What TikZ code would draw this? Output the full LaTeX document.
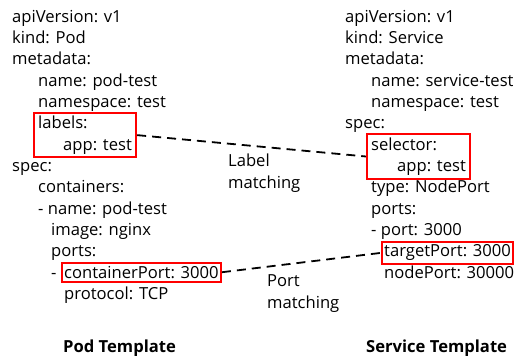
\documentclass[tikz,border=0pt]{standalone}
\usepackage{fontspec}
\setmainfont{Open Sans}
\usetikzlibrary{fit}

\begin{document}
\begin{tikzpicture}
    [x=1pt, y=-1pt,
     yaml/.style={anchor=base west, inner sep=0pt, font=\fontsize{16.6}{21.4}\selectfont},
     title/.style={yaml, font=\fontsize{16.6}{21.4}\selectfont\bfseries},
     redbox/.style={draw=red, line width=2.2pt, inner xsep=4pt, inner ysep=3pt},
     match/.style={line width=1.8pt, dash pattern=on 9pt off 6pt},
    ]
    \useasboundingbox (0,0) rectangle (528,359);

    % Pod template
    \foreach \tx / \ty / \txt [count=\si] in
             {12/22/apiVersion: v1, 12/43.4/kind: Pod, 12/64.7/metadata:,
              38/86/name: pod-test, 38/107.4/namespace: test,
              12/171.5/spec:, 38/192.8/containers:, 38/214.2/- name: pod-test,
              51/235.5/image: nginx, 51/256.9/ports:, 51/278.2/-,
              64/299.6/protocol: TCP} {
        \node[yaml] (pod\si) at (\tx, \ty) {\txt};
    }
    \node[yaml] (labels) at (38, 128.8) {labels:};
    \node[yaml] (app) at (63, 150.1) {app: test};
    \node[yaml] (cport) at (64, 278.2) {containerPort: 3000};

    % Service template
    \foreach \tx / \ty / \txt [count=\si] in
             {345/22/apiVersion: v1, 345/43.4/kind: Service, 345/64.7/metadata:,
              371/86/name: service-test, 371/107.4/namespace: test,
              345/128.8/spec:, 371/192.8/type: NodePort, 371/214.2/ports:,
              371/235.5/- port: 3000, 384/278.2/nodePort: 30000} {
        \node[yaml] (svc\si) at (\tx, \ty) {\txt};
    }
    \node[yaml] (selector) at (371, 150.1) {selector:};
    \node[yaml] (sapp) at (397, 171.5) {app: test};
    \node[yaml] (tport) at (384, 256.9) {targetPort: 3000};

    % Boxes
    \node[redbox, fit=(labels)(app)] (lblbox) {};
    \node[redbox, fit=(selector)(sapp)] (selbox) {};
    \node[redbox, inner xsep=2pt, fit=(cport)] (cbox) {};
    \node[redbox, inner xsep=2pt, fit=(tport)] (tbox) {};

    % Matching
    \draw[match] (lblbox.east) -- (selbox.west);
    \draw[match] (cbox.east) -- (tbox.west);
    \node[yaml, align=left] (lblmatch) at (228, 188) {Label\\matching};
    \node[yaml, align=left] (portmatch) at (267, 308) {Port\\matching};

    % Titles
    \node[title] (podtitle) at (63, 352) {Pod Template};
    \node[title] (svctitle) at (366, 352) {Service Template};
\end{tikzpicture}
\end{document}
